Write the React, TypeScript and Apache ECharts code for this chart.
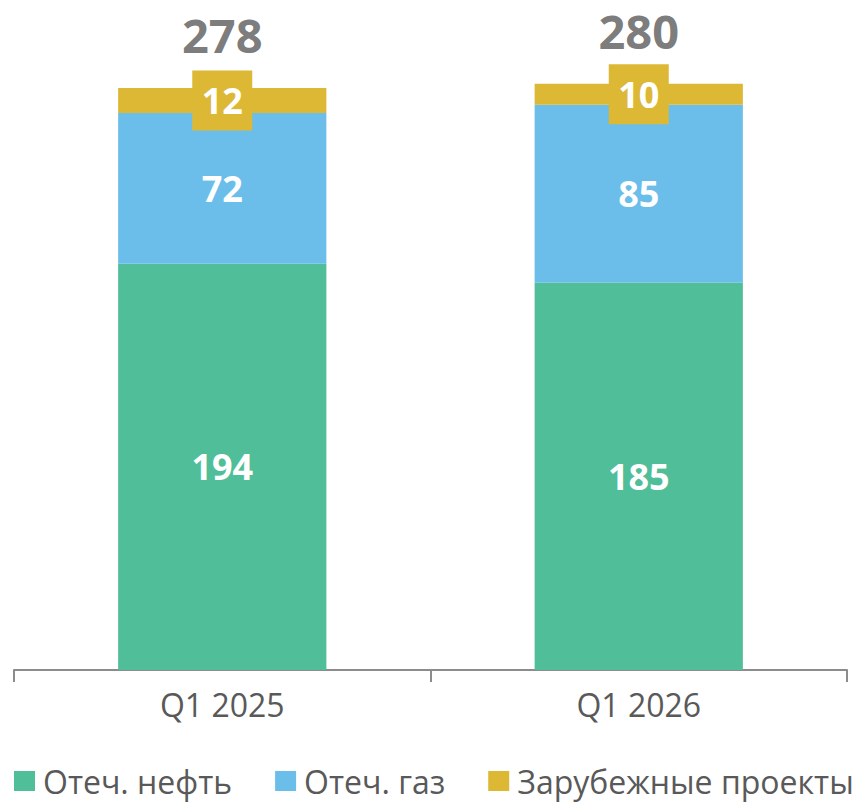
import React, { useEffect, useRef } from "react";
import * as echarts from "echarts";

const categories = ["Q1 2025", "Q1 2026"];
const seriesNames = ["Отеч. нефть", "Отеч. газ", "Зарубежные проекты"];
const oilValues = [194, 185];
const gasValues = [72, 85];
const foreignValues = [12, 10];
const totals = categories.map((_, i) => oilValues[i] + gasValues[i] + foreignValues[i]);

const GREEN = "#50BE98";
const BLUE = "#6BBEEA";
const YELLOW = "#DDB835";
const GRAY = "#595959";
const FONT = "'Open Sans', 'Noto Sans', sans-serif";

export default function App() {
  const ref = useRef<HTMLDivElement>(null);
  useEffect(() => {
    document.body.style.margin = "0";
    if (!ref.current) return;
    const chart = echarts.init(ref.current, null, { renderer: "svg" });
    const segLabel = {
      show: true,
      position: "inside",
      color: "#fff",
      fontFamily: FONT,
      fontWeight: "bold",
      fontSize: 36,
    };
    chart.setOption({
      animation: false,
      textStyle: { fontFamily: FONT },
      grid: { left: 14, right: 20, top: 0, bottom: 138, containLabel: false },
      legend: {
        bottom: 6,
        left: 9,
        icon: "rect",
        itemWidth: 21,
        itemHeight: 20,
        itemGap: 43,
        textStyle: { color: GRAY, fontSize: 32, fontFamily: FONT, padding: [0, 0, 0, 3] },
        data: seriesNames,
      },
      xAxis: {
        type: "category",
        data: categories,
        axisLine: { lineStyle: { color: "#8C8C8C", width: 2 } },
        axisTick: { show: true, length: 12, lineStyle: { color: "#8C8C8C", width: 2 } },
        axisLabel: { color: GRAY, fontSize: 32, fontFamily: FONT, margin: 18 },
      },
      yAxis: {
        type: "value",
        min: 0,
        max: 320,
        show: false,
        splitLine: { show: false },
      },
      series: [
        {
          name: seriesNames[0],
          type: "bar",
          stack: "s",
          barWidth: "50%",
          itemStyle: { color: GREEN },
          label: segLabel,
          data: oilValues,
        },
        {
          name: seriesNames[1],
          type: "bar",
          stack: "s",
          itemStyle: { color: BLUE },
          label: segLabel,
          data: gasValues,
        },
        {
          name: seriesNames[2],
          type: "bar",
          stack: "s",
          itemStyle: { color: YELLOW },
          label: {
            ...segLabel,
            backgroundColor: YELLOW,
            width: 40,
            height: 40,
            lineHeight: 40,
            align: "center",
            verticalAlign: "middle",
            padding: [10, 10, 10, 10],
          },
          data: foreignValues,
        },
        {
          name: "total",
          type: "scatter",
          symbolSize: 0,
          silent: true,
          label: {
            show: true,
            position: "top",
            distance: 33,
            color: GRAY,
            fontFamily: FONT,
            fontWeight: "bold",
            fontSize: 47,
            lineHeight: 40,
            formatter: (p: any) => String(p.value),
          },
          data: totals,
        },
      ],
    });
    return () => chart.dispose();
  }, []);
  return <div ref={ref} style={{ width: 867, height: 808 }} />;
}
